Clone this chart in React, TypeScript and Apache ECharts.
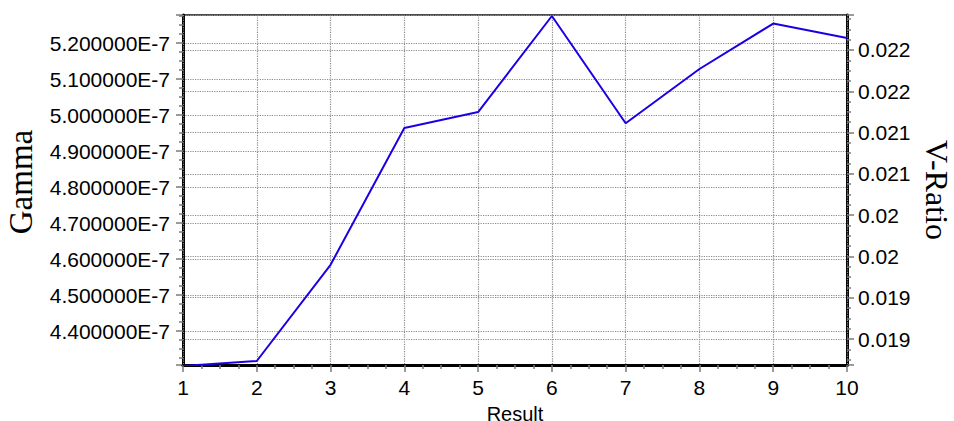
import React, { useEffect, useRef } from "react";
import * as echarts from "echarts";

// Data
const results = [1, 2, 3, 4, 5, 6, 7, 8, 9, 10];
const gamma = [
  4.303e-7, 4.3167e-7, 4.584e-7, 4.9639e-7, 5.0083e-7,
  5.275e-7, 4.977e-7, 5.1278e-7, 5.254e-7, 5.2139e-7,
];
const gammaRange = [4.3056e-7, 5.2778e-7];
const gammaStep = 1e-8;
const vRatioRange = [0.0181852, 0.0224238];
const vRatioStep = 0.0005;
const resultRange = [1, 10];

const SANS = "Liberation Sans, Arial, sans-serif";
const SERIF = "Liberation Serif, Times New Roman, serif";
const GRID_GREY = "#8a8a8a";

export default function App() {
  const ref = useRef<HTMLDivElement>(null);

  useEffect(() => {
    if (!ref.current) return;
    const chart = echarts.init(ref.current, undefined, { renderer: "svg" });
    const labelStyle = { fontFamily: SANS, fontSize: 21, color: "#000" };
    const tickStyle = { color: "#7a7a7a", width: 1.5 };
    const splitStyle = { color: GRID_GREY, type: "dotted" as const, width: 1.2 };

    chart.setOption({
      animation: false,
      backgroundColor: "#fff",
      grid: {
        left: 183,
        right: 107,
        top: 15,
        bottom: 56,
        containLabel: false,
        outerBoundsMode: "none",
        show: true,
        borderColor: "#111",
        borderWidth: 1.5,
        backgroundColor: "transparent",
      },
      xAxis: {
        type: "value",
        min: resultRange[0],
        max: resultRange[1],
        interval: 1,
        z: 3,
        name: "Result",
        nameLocation: "middle",
        nameGap: 30,
        nameTextStyle: { fontFamily: SANS, fontSize: 20, lineHeight: 22, color: "#000" },
        axisLine: { show: true, onZero: false, lineStyle: { color: "#000", width: 3 } },
        axisTick: { show: true, length: 7, lineStyle: tickStyle },
        minorTick: { show: true, splitNumber: 4, length: 4, lineStyle: tickStyle },
        axisLabel: { ...labelStyle, margin: 12 },
        splitLine: { show: true, lineStyle: splitStyle },
      },
      yAxis: [
        {
          type: "value",
          position: "left",
          min: gammaRange[0],
          max: gammaRange[1],
          splitNumber: 10,
          minInterval: gammaStep,
          maxInterval: gammaStep,
          name: "Gamma",
          nameLocation: "middle",
          nameRotate: 90,
          nameGap: 146,
          nameTextStyle: {
            fontFamily: SERIF,
            fontSize: 33,
            lineHeight: 33,
            color: "#000",
            padding: [0, 0, 0, 16],
          },
          axisLine: { show: true, onZero: false, lineStyle: { color: "#000", width: 3 } },
          axisTick: { show: true, length: 7, lineStyle: tickStyle },
          minorTick: { show: true, splitNumber: 4, length: 4, lineStyle: tickStyle },
          axisLabel: {
            ...labelStyle,
            margin: 13,
            showMinLabel: false,
            showMaxLabel: false,
            formatter: (v: number) => v.toExponential(6).toUpperCase(),
          },
          splitLine: { show: true, lineStyle: splitStyle },
        },
        {
          type: "value",
          position: "right",
          min: vRatioRange[0],
          max: vRatioRange[1],
          splitNumber: 8,
          minInterval: vRatioStep,
          maxInterval: vRatioStep,
          alignTicks: false,
          name: "V-Ratio",
          nameLocation: "middle",
          nameRotate: -90,
          nameGap: 64,
          nameTextStyle: { fontFamily: SERIF, fontSize: 32, lineHeight: 32, color: "#000" },
          axisLine: { show: true, onZero: false, lineStyle: { color: "#000", width: 3 } },
          axisTick: { show: true, length: 7, lineStyle: tickStyle },
          minorTick: { show: true, splitNumber: 4, length: 4, lineStyle: tickStyle },
          axisLabel: {
            ...labelStyle,
            margin: 11,
            showMinLabel: false,
            showMaxLabel: false,
            formatter: (v: number) => String(Math.round(v * 1000 + 1e-7) / 1000),
          },
          splitLine: { show: true, lineStyle: splitStyle },
        },
      ],
      series: [
        {
          name: "Gamma",
          type: "line",
          xAxisIndex: 0,
          yAxisIndex: 0,
          data: results.map((r, i) => [r, gamma[i]]),
          showSymbol: false,
          symbol: "none",
          lineStyle: { color: "#1c00e4", width: 2 },
          clip: true,
        },
      ],
    });

    return () => chart.dispose();
  }, []);

  return (
    <div
      ref={ref}
      style={{ position: "fixed", left: 0, top: 0, width: 954, height: 421, background: "#fff" }}
    />
  );
}
